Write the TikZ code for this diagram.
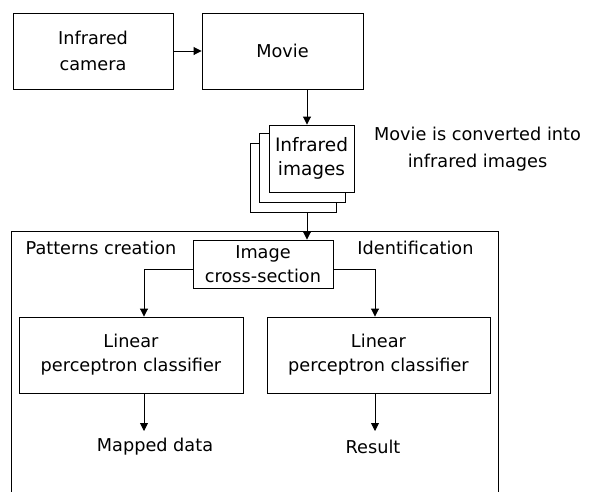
\documentclass[tikz,border=0pt]{standalone}
\usepackage{fontspec}
\setmainfont{DejaVu Sans}
\usetikzlibrary{arrows.meta}
\begin{document}
\begin{tikzpicture}[x=1pt,y=-1pt,
  every node/.style={font=\fontsize{17.7}{24}\selectfont, align=center, inner sep=0pt},
  box/.style={draw, line width=0.9pt, fill=white},
  lbl/.style={},
  arr/.style={line width=0.9pt, -{Triangle[length=8pt,width=8pt]}},
  ln/.style={line width=0.9pt}]
\useasboundingbox (0,0) rectangle (600,491);
% top row
\node[box, minimum width=160pt, minimum height=76pt] (cam) at (93,51) {Infrared\\[2pt]camera};
\node[box, minimum width=161pt, minimum height=76pt] (movie) at (282.5,51) {Movie};
% stack of images
\node[box, minimum width=86pt, minimum height=69pt] (back) at (293,177.5) {};
\node[box, minimum width=86pt, minimum height=69pt] (mid) at (302,167.5) {};
\node[box, minimum width=85pt, minimum height=67pt] (front) at (311.5,158.5) {\fontsize{18.5}{24}\selectfont Infrared\\\fontsize{18.5}{24}\selectfont images};
\node[lbl] (conv) at (477.5,149) {Movie is converted into\\[3pt]infrared images};
% outer frame
\draw[ln] (11,500) -- (11,231) -- (498,231) -- (498,500);
\node[lbl] (pc) at (101,248) {Patterns creation};
\node[lbl] (id) at (415.5,248) {Identification};
% cross-section and classifiers
\node[box, minimum width=140pt, minimum height=48pt] (ics) at (263,264) {Image\\cross-section};
\node[box, minimum width=224pt, minimum height=76pt] (lc) at (131,355) {Linear\\perceptron classifier};
\node[box, minimum width=223pt, minimum height=76pt] (rc) at (378.5,355) {Linear\\perceptron classifier};
\node[lbl] (md) at (155,447) {Mapped data};
\node[lbl] (res) at (373,447) {Result};
\coordinate (ax) at (307,0);
\coordinate (lend) at (144,431);
\coordinate (rend) at (375,431);
% connectors
\draw[arr] (cam.east) -- (movie.west);
\draw[arr] (movie.south -| ax) -- (front.north -| ax);
\draw[arr] (back.south -| ax) -- (ics.north -| ax);
\draw[arr] ([yshift=-5pt]ics.west) -| ([xshift=13pt]lc.north);
\draw[arr] ([yshift=-5pt]ics.east) -| ([xshift=-3.5pt]rc.north);
\draw[arr] (lc.south -| lend) -- (lend);
\draw[arr] (rc.south -| rend) -- (rend);
\end{tikzpicture}
\end{document}
